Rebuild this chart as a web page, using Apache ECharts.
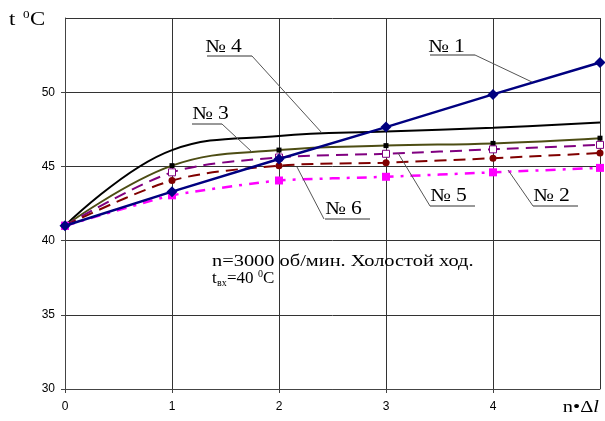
<!DOCTYPE html>
<html><head><meta charset="utf-8">
<script src="https://cdn.jsdelivr.net/npm/echarts@6/dist/echarts.min.js"></script>
<style>html,body{margin:0;padding:0;background:#fff}#c{width:605px;height:421px}</style>
</head><body><div id="c"></div>
<script>
// ---- data ----
const xValues = [0, 1, 2, 3, 4, 5];
const yMin = 30, yMax = 55, yStep = 5;
const seriesNames = ['№ 1', '№ 2', '№ 3', '№ 4', '№ 5', '№ 6'];
const s1 = [41.0, 43.3, 45.5, 47.65, 49.85, 52.0];
const s2 = [41.0, 43.05, 44.05, 44.3, 44.6, 44.9];
const s3 = [41.0, 45.05, 46.1, 46.4, 46.55, 46.9];
const s4 = [41.0, 46.1, 47.05, 47.35, 47.6, 47.95];
const s5 = [41.0, 44.6, 45.6, 45.85, 46.15, 46.45];
const s6 = [41.0, 44.05, 45.05, 45.25, 45.55, 45.9];
const noteLine1 = 'n=3000 об/мин. Холостой ход.';

const pairs = a => xValues.map((x, i) => [x, a[i]]);
const serif = '"Liberation Serif","Times New Roman",serif';
const SX = 1.2;

const chart = echarts.init(document.getElementById('c'), null, {renderer: 'canvas'});

function txt(text, x, yc, size, extra, sx) {
  const st = Object.assign({text: text, font: size + 'px ' + serif, fill: '#000',
    textVerticalAlign: 'middle', verticalAlign: 'middle'}, extra || {});
  return {type: 'text', x: x, y: yc, scaleX: sx || SX, z: 50, style: st};
}
function ln(points, color) {
  return {type: 'polyline', z: 50, shape: {points: points}, style: {stroke: color || '#555', lineWidth: 1, fill: null}};
}

const option = {
  animation: false,
  backgroundColor: '#fff',
  grid: {left: 65, right: 5, top: 18, bottom: 32, containLabel: false},
  xAxis: {
    type: 'value', min: 0, max: 5, interval: 1,
    axisLine: {show: true, lineStyle: {color: '#444', width: 1}},
    axisTick: {show: true, length: 4, lineStyle: {color: '#444'}},
    axisLabel: {showMaxLabel: false, color: '#000', fontSize: 12, fontFamily: '"Liberation Sans",Arial,sans-serif', margin: 12},
    splitLine: {show: true, lineStyle: {color: '#333', width: 1}}
  },
  yAxis: {
    type: 'value', min: yMin, max: yMax, interval: yStep,
    axisLine: {show: true, lineStyle: {color: '#444', width: 1}},
    axisTick: {show: true, length: 4, lineStyle: {color: '#444'}},
    axisLabel: {showMaxLabel: false, color: '#000', fontSize: 12, fontFamily: '"Liberation Sans",Arial,sans-serif', margin: 10},
    splitLine: {show: true, lineStyle: {color: '#333', width: 1}}
  },
  series: [
    {name: seriesNames[3], type: 'line', data: pairs(s4), smooth: 0.4, showSymbol: false, symbol: 'none',
      lineStyle: {color: '#000', width: 2}, z: 3},
    {name: seriesNames[2], type: 'line', data: pairs(s3), smooth: 0.4, symbol: 'rect', symbolSize: 5,
      itemStyle: {color: '#000'}, lineStyle: {color: '#4d4d14', width: 2}, z: 3},
    {name: seriesNames[4], type: 'line', data: pairs(s5), smooth: 0.3, symbol: 'rect', symbolSize: 7,
      itemStyle: {color: '#fff', borderColor: '#800080', borderWidth: 1},
      lineStyle: {color: '#800080', width: 2, type: [12, 7]}, z: 4},
    {name: seriesNames[5], type: 'line', data: pairs(s6), smooth: 0.3, symbol: 'circle', symbolSize: 7,
      itemStyle: {color: '#800000'}, lineStyle: {color: '#800000', width: 2, type: [12, 7]}, z: 4},
    {name: seriesNames[1], type: 'line', data: pairs(s2), smooth: 0.15, symbol: 'rect', symbolSize: 8,
      itemStyle: {color: '#ff00ff'}, lineStyle: {color: '#ff00ff', width: 2.5, type: [10, 7, 3, 7]}, z: 4},
    {name: seriesNames[0], type: 'line', data: pairs(s1), smooth: false, symbol: 'diamond', symbolSize: 11,
      itemStyle: {color: '#000080'}, lineStyle: {color: '#000080', width: 2.5}, z: 5}
  ],
  graphic: [
    // axis titles
    txt('t', 9, 20, 19),
    txt('0', 23, 15, 11),
    txt('C', 30, 20, 19),
    txt('n•Δ{i|l}', 599, 408, 17, {textAlign: 'right', align: 'right',
      rich: {i: {fontStyle: 'italic', font: 'italic 17px ' + serif}}}),
    // note
    txt(noteLine1, 212, 262, 17),
    txt('t', 212, 279, 17, null, 1),
    txt('вх', 217, 283, 10, null, 1),
    txt('=40', 227, 279, 17, null, 1),
    txt('0', 258, 274, 10, null, 1),
    txt('C', 263, 279, 17, null, 1),
    // series labels with leaders
    txt('№ 1', 428, 47, 18), ln([[430, 55], [475, 55]], '#333'), ln([[475, 55], [532, 82]]),
    txt('№ 4', 205, 47, 18), ln([[207, 56], [252, 56]], '#333'), ln([[252, 56], [322, 133]]),
    txt('№ 3', 192, 114, 18), ln([[192, 124], [222, 124]], '#333'), ln([[222, 124], [252, 152]]),
    txt('№ 6', 325, 209, 18), ln([[325, 219], [370, 219]], '#333'), ln([[324, 219], [297, 167]]),
    txt('№ 5', 430, 196, 18), ln([[430, 206], [475, 206]], '#333'), ln([[430, 206], [398, 153]]),
    txt('№ 2', 533, 196, 18), ln([[533, 206], [578, 206]], '#333'), ln([[533, 206], [508, 170]])
  ]
};
chart.setOption(option);
</script>
</body></html>
